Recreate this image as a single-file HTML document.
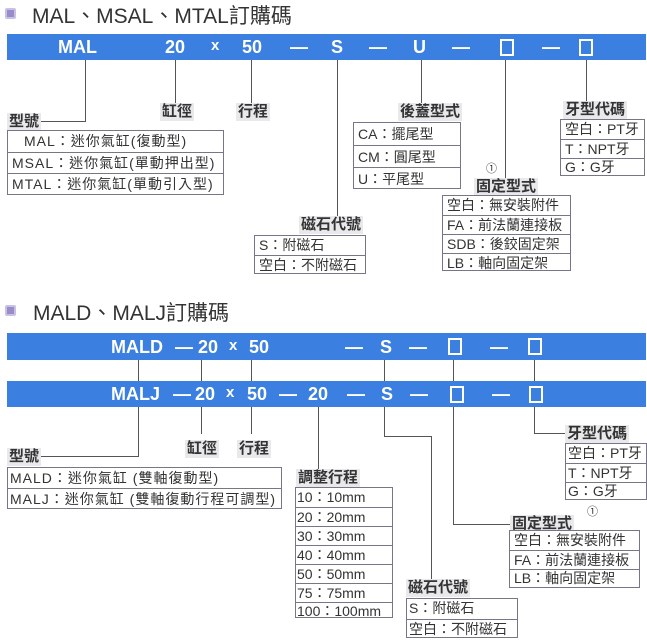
<!DOCTYPE html>
<html><head><meta charset="utf-8"><style>
*{margin:0;padding:0;box-sizing:border-box}
body{width:647px;height:640px;background:#fff;position:relative;overflow:hidden;font-family:"Liberation Sans","Noto Sans CJK TC",sans-serif;color:#333}
.a{position:absolute}
.title{font-size:21px;color:#333;white-space:nowrap}
.ic{position:absolute;width:11px;height:11px;background:#9a8cc8;border:2px solid #c9c0e6;border-radius:2px}
.bar{position:absolute;left:7px;width:639px;background:#3b7fe0}
.bt{position:absolute;color:#fff;font-weight:bold;font-size:18px;white-space:nowrap;line-height:1}
.sq{position:absolute;border:2px solid #fff;width:14px;height:17px}
.v{position:absolute;width:1px;background:#555}
.h{position:absolute;height:1px;background:#555}
.lb{position:absolute;background:#e9e9ec;font-size:15px;font-weight:bold;color:#333;white-space:nowrap;padding:0 2px;line-height:18px}
.box{position:absolute;border:1px solid #7a7488;background:#fff}
.box div{border-top:1px solid #7a7488;font-size:14px;white-space:nowrap;padding-left:4px;overflow:hidden}
.box div:first-child{border-top:none}
.wide div{letter-spacing:1px}
</style></head><body>

<!-- Section 1 -->
<div class="ic" style="left:5px;top:8px"></div>
<div class="a title" style="left:32px;top:0px">MAL、MSAL、MTAL訂購碼</div>
<div class="bar" style="top:34px;height:26px"></div>
<div class="bt" style="left:58px;top:38px">MAL</div>
<div class="bt" style="left:165px;top:38px">20</div>
<div class="bt" style="left:211px;top:38px;font-size:15px">x</div>
<div class="bt" style="left:242px;top:38px">50</div>
<div class="bt" style="left:290px;top:38px">—</div>
<div class="bt" style="left:331px;top:38px">S</div>
<div class="bt" style="left:369px;top:38px">—</div>
<div class="bt" style="left:413px;top:38px">U</div>
<div class="bt" style="left:452px;top:38px">—</div>
<div class="sq" style="left:500px;top:39px"></div>
<div class="bt" style="left:542px;top:38px">—</div>
<div class="sq" style="left:579px;top:39px"></div>

<div class="v" style="left:85px;top:60px;height:61px"></div>
<div class="h" style="left:40px;top:121px;width:46px"></div>
<div class="lb" style="left:7px;top:113px">型號</div>
<div class="v" style="left:175px;top:60px;height:43px"></div>
<div class="lb" style="left:160px;top:103px">缸徑</div>
<div class="v" style="left:251px;top:60px;height:43px"></div>
<div class="lb" style="left:236px;top:103px">行程</div>
<div class="box wide" style="left:7px;top:130px;width:217px;height:65px">
<div style="height:21px;line-height:21px;padding-left:16px">MAL：迷你氣缸(復動型)</div>
<div style="height:21px;line-height:21px">MSAL：迷你氣缸(單動押出型)</div>
<div style="height:21px;line-height:21px">MTAL：迷你氣缸(單動引入型)</div>
</div>

<div class="v" style="left:337px;top:60px;height:157px"></div>
<div class="lb" style="left:299px;top:216px">磁石代號</div>
<div class="box" style="left:254px;top:235px;width:112px;height:39px">
<div style="height:19px;line-height:19px">S：附磁石</div>
<div style="height:19px;line-height:19px">空白：不附磁石</div>
</div>

<div class="v" style="left:421px;top:60px;height:43px"></div>
<div class="lb" style="left:398px;top:103px">後蓋型式</div>
<div class="box" style="left:353px;top:122px;width:108px;height:67px">
<div style="height:22px;line-height:22px">CA：擺尾型</div>
<div style="height:22px;line-height:22px">CM：圓尾型</div>
<div style="height:22px;line-height:22px">U：平尾型</div>
</div>

<div class="v" style="left:505px;top:60px;height:120px"></div>
<div class="a" style="left:486px;top:160px;font-size:11px">①</div>
<div class="lb" style="left:474px;top:178px">固定型式</div>
<div class="box" style="left:442px;top:195px;width:129px;height:76px">
<div style="height:19px;line-height:18px">空白：無安裝附件</div>
<div style="height:19px;line-height:18px">FA：前法蘭連接板</div>
<div style="height:19px;line-height:18px">SDB：後鉸固定架</div>
<div style="height:18px;line-height:18px">LB：軸向固定架</div>
</div>

<div class="v" style="left:586px;top:60px;height:42px"></div>
<div class="lb" style="left:563px;top:101px">牙型代碼</div>
<div class="box" style="left:560px;top:119px;width:85px;height:57px">
<div style="height:19px;line-height:18px">空白：PT牙</div>
<div style="height:19px;line-height:18px">T：NPT牙</div>
<div style="height:18px;line-height:17px">G：G牙</div>
</div>

<!-- Section 2 -->
<div class="ic" style="left:5px;top:305px"></div>
<div class="a title" style="left:33px;top:297px">MALD、MALJ訂購碼</div>
<div class="bar" style="top:333px;height:27px"></div>
<div class="bt" style="left:111px;top:338px">MALD</div>
<div class="bt" style="left:175px;top:338px">—</div>
<div class="bt" style="left:198px;top:338px">20</div>
<div class="bt" style="left:229px;top:338px;font-size:15px">x</div>
<div class="bt" style="left:249px;top:338px">50</div>
<div class="bt" style="left:345px;top:338px">—</div>
<div class="bt" style="left:380px;top:338px">S</div>
<div class="bt" style="left:409px;top:338px">—</div>
<div class="sq" style="left:448px;top:338px"></div>
<div class="bt" style="left:490px;top:338px">—</div>
<div class="sq" style="left:528px;top:338px"></div>

<div class="v" style="left:138px;top:360px;height:21px"></div>
<div class="v" style="left:201px;top:360px;height:21px"></div>
<div class="v" style="left:251px;top:360px;height:21px"></div>
<div class="v" style="left:384px;top:360px;height:21px"></div>
<div class="v" style="left:453px;top:360px;height:21px"></div>
<div class="v" style="left:534px;top:360px;height:21px"></div>

<div class="bar" style="top:381px;height:26px"></div>
<div class="bt" style="left:111px;top:385px">MALJ</div>
<div class="bt" style="left:173px;top:385px">—</div>
<div class="bt" style="left:195px;top:385px">20</div>
<div class="bt" style="left:226px;top:385px;font-size:15px">x</div>
<div class="bt" style="left:247px;top:385px">50</div>
<div class="bt" style="left:279px;top:385px">—</div>
<div class="bt" style="left:308px;top:385px">20</div>
<div class="bt" style="left:347px;top:385px">—</div>
<div class="bt" style="left:381px;top:385px">S</div>
<div class="bt" style="left:410px;top:385px">—</div>
<div class="sq" style="left:450px;top:386px"></div>
<div class="bt" style="left:492px;top:385px">—</div>
<div class="sq" style="left:529px;top:386px"></div>

<div class="v" style="left:138px;top:407px;height:50px"></div>
<div class="h" style="left:40px;top:456px;width:99px"></div>
<div class="lb" style="left:7px;top:448px">型號</div>
<div class="v" style="left:201px;top:407px;height:27px"></div>
<div class="lb" style="left:185px;top:440px">缸徑</div>
<div class="v" style="left:251px;top:407px;height:27px"></div>
<div class="lb" style="left:237px;top:440px">行程</div>
<div class="box wide" style="left:7px;top:467px;width:275px;height:42px">
<div style="height:20px;line-height:20px;padding-left:2px">MALD：迷你氣缸 (雙軸復動型)</div>
<div style="height:20px;line-height:20px;padding-left:2px">MALJ：迷你氣缸 (雙軸復動行程可調型)</div>
</div>

<div class="v" style="left:318px;top:407px;height:62px"></div>
<div class="lb" style="left:296px;top:469px">調整行程</div>
<div class="box" style="left:295px;top:487px;width:98px;height:131px">
<div style="height:19px;line-height:18px;padding-left:1px">10：10mm</div>
<div style="height:19px;line-height:18px;padding-left:1px">20：20mm</div>
<div style="height:19px;line-height:18px;padding-left:1px">30：30mm</div>
<div style="height:19px;line-height:18px;padding-left:1px">40：40mm</div>
<div style="height:19px;line-height:18px;padding-left:1px">50：50mm</div>
<div style="height:19px;line-height:18px;padding-left:1px">75：75mm</div>
<div style="height:17px;line-height:17px;padding-left:1px">100：100mm</div>
</div>

<div class="v" style="left:384px;top:407px;height:30px"></div>
<div class="h" style="left:384px;top:436px;width:48px"></div>
<div class="v" style="left:431px;top:436px;height:143px"></div>
<div class="lb" style="left:406px;top:579px">磁石代號</div>
<div class="box" style="left:406px;top:598px;width:112px;height:40px">
<div style="height:20px;line-height:19px;padding-left:2px">S：附磁石</div>
<div style="height:19px;line-height:19px;padding-left:2px">空白：不附磁石</div>
</div>

<div class="v" style="left:453px;top:407px;height:117px"></div>
<div class="h" style="left:453px;top:524px;width:58px"></div>
<div class="lb" style="left:510px;top:515px">固定型式</div>
<div class="a" style="left:587px;top:503px;font-size:11px">①</div>
<div class="box" style="left:509px;top:530px;width:131px;height:58px">
<div style="height:19px;line-height:18px">空白：無安裝附件</div>
<div style="height:19px;line-height:18px">FA：前法蘭連接板</div>
<div style="height:18px;line-height:17px">LB：軸向固定架</div>
</div>

<div class="v" style="left:534px;top:407px;height:27px"></div>
<div class="h" style="left:534px;top:433px;width:32px"></div>
<div class="lb" style="left:565px;top:425px">牙型代碼</div>
<div class="box" style="left:565px;top:443px;width:82px;height:57px">
<div style="height:19px;line-height:18px;padding-left:2px">空白：PT牙</div>
<div style="height:19px;line-height:18px;padding-left:2px">T：NPT牙</div>
<div style="height:18px;line-height:17px;padding-left:2px">G：G牙</div>
</div>

</body></html>
